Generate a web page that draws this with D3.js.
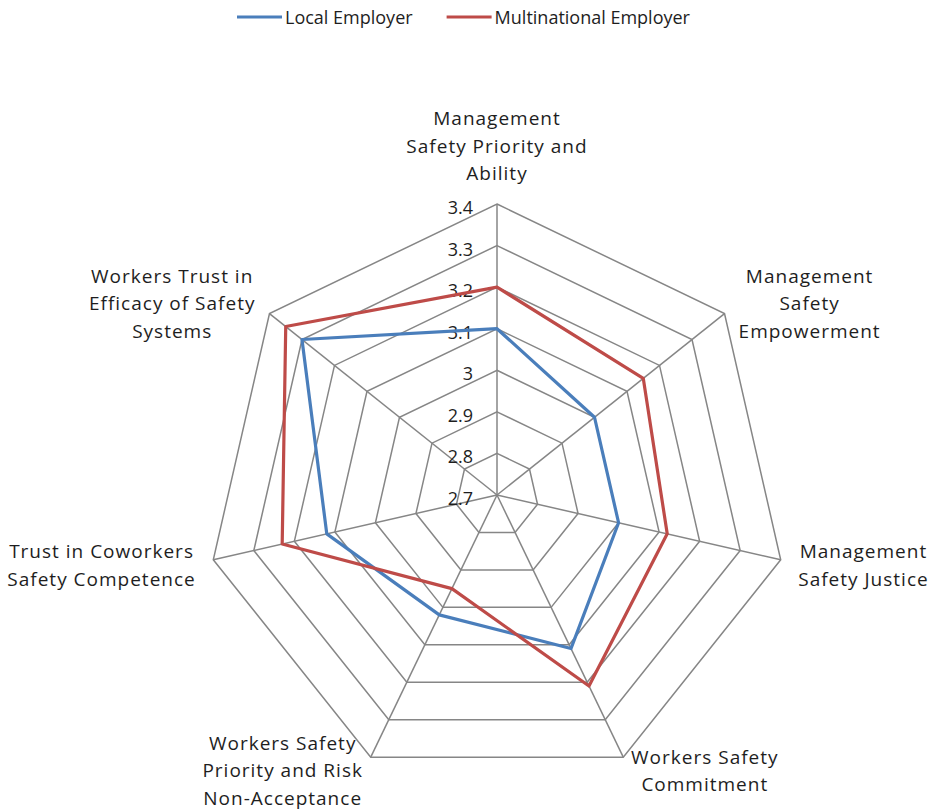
<!DOCTYPE html>
<html lang="en">
<head>
    <meta charset="UTF-8">
    <title>Safety climate radar</title>
    <style>
        body {
            margin: 0;
            background: #fff;
        }

        svg text {
            font-family: "Open Sans", sans-serif;
            fill: #1e1e1e;
        }
    </style>
</head>
<body>
<script src="https://cdnjs.cloudflare.com/ajax/libs/d3/7.8.5/d3.min.js"></script>
<script>
    const width = 938;
    const height = 810;

    // axis labels, one entry per line of text
    const axisLabels = [
        ['Management', 'Safety Priority and', 'Ability'],
        ['Management', 'Safety', 'Empowerment'],
        ['Management', 'Safety Justice'],
        ['Workers Safety', 'Commitment'],
        ['Workers Safety', 'Priority and Risk', 'Non-Acceptance'],
        ['Trust in Coworkers', 'Safety Competence'],
        ['Workers Trust in', 'Efficacy of Safety', 'Systems']
    ];
    const seriesNames = ['Local Employer', 'Multinational Employer'];
    const localValues = [3.1, 3.0, 3.0, 3.11, 3.02, 3.12, 3.30];
    const multinationalValues = [3.2, 3.15, 3.12, 3.21, 2.95, 3.23, 3.35];
    const tickValues = [2.7, 2.8, 2.9, 3.0, 3.1, 3.2, 3.3, 3.4];

    const COLORS = {
        grid: '#868686',
        series: ['#4a7ebb', '#be4b48']
    };

    const CENTER = {x: 497, y: 495};
    const RADIUS = 291;
    const FONT_SIZE = 18;
    const LABEL_SIZE = 19;
    const LINE_HEIGHT = 27.5;

    const n = axisLabels.length;
    const angle = d3.scaleLinear().domain([0, n]).range([0, 2 * Math.PI]);
    const r = d3.scaleLinear().domain([d3.min(tickValues), d3.max(tickValues)]).range([0, RADIUS]);

    const point = (i, v) => [r(v) * Math.sin(angle(i)), -r(v) * Math.cos(angle(i))];

    const svg = d3.select('body').append('svg')
        .attr('width', width)
        .attr('height', height)
        .style('display', 'block');

    const chart = svg.append('g')
        .attr('transform', `translate(${CENTER.x},${CENTER.y})`);

    // grid rings
    const ring = d3.line().curve(d3.curveLinearClosed);
    chart.append('g').selectAll('path')
        .data(tickValues.slice(1))
        .join('path')
        .attr('d', t => ring(d3.range(n).map(i => point(i, t))))
        .attr('fill', 'none')
        .attr('stroke', COLORS.grid)
        .attr('stroke-width', 1.5);

    // spokes
    chart.append('g').selectAll('line')
        .data(d3.range(n))
        .join('line')
        .attr('x1', 0).attr('y1', 0)
        .attr('x2', i => point(i, d3.max(tickValues))[0])
        .attr('y2', i => point(i, d3.max(tickValues))[1])
        .attr('stroke', COLORS.grid)
        .attr('stroke-width', 1.5);

    // tick labels along the top spoke
    chart.append('g').selectAll('text')
        .data(tickValues)
        .join('text')
        .attr('x', -24)
        .attr('y', t => -r(t) + 3)
        .attr('text-anchor', 'end')
        .attr('dominant-baseline', 'central')
        .style('font-size', FONT_SIZE + 'px')
        .text(t => d3.format('~g')(t));

    // series
    const seriesData = [localValues, multinationalValues];
    chart.append('g').selectAll('path')
        .data(seriesData)
        .join('path')
        .attr('d', vals => ring(vals.map((v, i) => point(i, v))))
        .attr('fill', 'none')
        .attr('stroke', (d, k) => COLORS.series[k])
        .attr('stroke-width', 3.2)
        .attr('stroke-linejoin', 'round');

    // axis labels
    const labelGroups = chart.append('g').selectAll('g')
        .data(axisLabels)
        .join('g');

    labelGroups.each(function (lines, i) {
        const g = d3.select(this);
        const a = angle(i);
        const sin = Math.sin(a), cos = Math.cos(a);
        const ax = (RADIUS + 18) * sin;
        const ay = -(RADIUS + 18) * cos;

        const texts = g.selectAll('text')
            .data(lines)
            .join('text')
            .attr('text-anchor', 'middle')
            .attr('dominant-baseline', 'central')
            .style('font-size', LABEL_SIZE + 'px')
            .style('letter-spacing', '1px')
            .text(d => d);
        const boxW = d3.max(texts.nodes(), t => t.getComputedTextLength());

        let cx;
        if (Math.abs(sin) < 0.1) cx = ax;
        else if (sin > 0) cx = ax + boxW / 2;
        else cx = ax - boxW / 2;

        let midY;
        if (Math.abs(sin) < 0.1 && cos > 0) midY = ay - 13 - (lines.length - 1) * LINE_HEIGHT / 2;
        else if (cos < -0.5) midY = ay - 3;
        else midY = ay + 1;
        const firstY = midY - (lines.length - 1) * LINE_HEIGHT / 2;

        texts.attr('x', cx).attr('y', (d, j) => firstY + j * LINE_HEIGHT);
    });

    // legend
    const legend = svg.append('g').attr('transform', 'translate(237,17)');
    let lx = 0;
    seriesNames.forEach((name, k) => {
        const item = legend.append('g').attr('transform', `translate(${lx},0)`);
        item.append('line')
            .attr('x1', 0).attr('x2', 45)
            .attr('y1', 0).attr('y2', 0)
            .attr('stroke', COLORS.series[k])
            .attr('stroke-width', 3.2);
        const t = item.append('text')
            .attr('x', 48)
            .attr('y', 0)
            .attr('dominant-baseline', 'central')
            .style('font-size', FONT_SIZE + 'px')
            .text(name);
        lx += 48 + t.node().getComputedTextLength() + 34;
    });
</script>
</body>
</html>
